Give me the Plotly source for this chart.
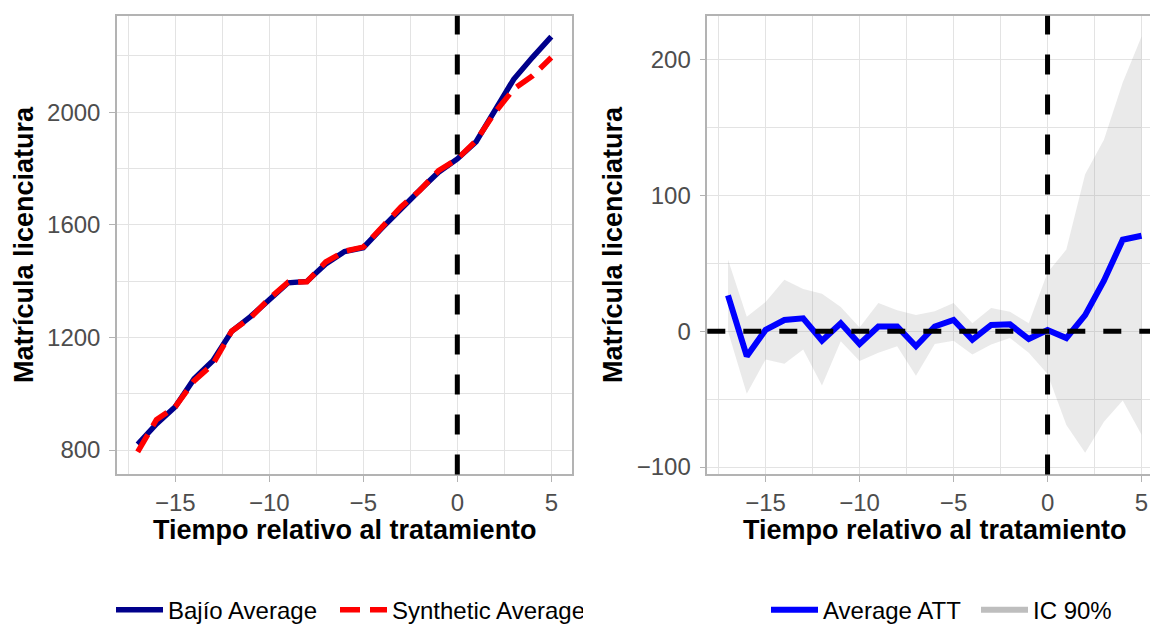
import plotly.graph_objects as go

# ---------------- data ----------------
t = list(range(-17, 6))
bajio_avg = [820, 893, 954, 1053, 1117, 1222, 1274, 1332, 1394, 1399, 1461, 1505,
             1519, 1589, 1659, 1723, 1787, 1834, 1895, 2009, 2117, 2195, 2268]
synthetic_avg = [794, 908, 954, 1046, 1105, 1222, 1270, 1338, 1396, 1398, 1468, 1506,
                 1521, 1594, 1663, 1722, 1792, 1834, 1899, 1999, 2082, 2129, 2194]
att = [26.3, -18.4, 0.9, 8.2, 9.4, -7.0, 5.8, -9.4, 3.4, 3.4, -11.1, 3.4,
       8.2, -6.3, 4.6, 5.0, -5.8, 0.9, -5.1, 11.8, 37.1, 67.3, 70.2]
ci_upper = [52.8, 10.6, 21.4, 37.8, 31.1, 27.5, 17.8, 2.6, 20.7, 15.4, 11.8, 14.7,
            20.7, 5.8, 17.1, 14.2, 5.8, 43.1, 60.0, 115.5, 140.8, 183.0, 216.8]
ci_lower = [0.0, -46.1, -20.8, -23.9, -13.5, -40.0, -7.5, -22.0, -15.9, -11.1, -32.8, -9.4,
            -7.0, -17.1, -9.9, -5.1, -15.9, -31.6, -69.0, -89.5, -66.6, -51.0, -76.3]

x_title = "Tiempo relativo al tratamiento"
y_title = "Matrícula licenciatura"

W, H = 1150, 633
FONT = "Liberation Sans, Arial, sans-serif"
GRID = "#e3e3e3"
BORDER = "#b3b3b3"

fig = go.Figure()

# ---- left panel ----
fig.add_trace(go.Scatter(x=t, y=bajio_avg, mode="lines", name="Bajío Average",
                         line=dict(color="#00008B", width=5.5), xaxis="x", yaxis="y",
                         legend="legend", legendwidth=162))
fig.add_trace(go.Scatter(x=t, y=synthetic_avg, mode="lines", name="Synthetic Average",
                         line=dict(color="#FF0000", width=5.5, dash="20px,10px"),
                         xaxis="x", yaxis="y", legend="legend", legendwidth=186))

# ---- right panel ----
fig.add_trace(go.Scatter(x=t + t[::-1], y=ci_upper + ci_lower[::-1], mode="lines",
                         fill="toself", fillcolor="rgba(150,150,150,0.2)",
                         line=dict(width=0, color="rgba(0,0,0,0)"), hoverinfo="skip",
                         showlegend=False, xaxis="x2", yaxis="y2"))
fig.add_trace(go.Scatter(x=t, y=att, mode="lines", name="Average ATT",
                         line=dict(color="#0000FF", width=6), xaxis="x2", yaxis="y2",
                         legend="legend2", legendwidth=148))
fig.add_trace(go.Scatter(x=[None], y=[None], mode="lines", name="IC 90%",
                         line=dict(color="#bebebe", width=6), xaxis="x2", yaxis="y2",
                         legend="legend2"))

def px_x(p):
    return p / W

def px_y(p):
    return 1 - p / H

ydom = [px_y(482), px_y(16)]

tickfont = dict(family=FONT, size=24, color="#4d4d4d")
common_x = dict(showgrid=True, gridcolor=GRID, gridwidth=1.4, zeroline=False,
                showline=True, linecolor=BORDER, linewidth=1.5,
                ticks="outside", ticklen=6, tickcolor=BORDER, tickwidth=1.2,
                tickfont=tickfont, tick0=0, dtick=5,
                minor=dict(dtick=2.5, tick0=0, showgrid=True, gridcolor=GRID, gridwidth=1.2,
                           ticks=""),
                automargin=False, fixedrange=True)
common_y = dict(showgrid=True, gridcolor=GRID, gridwidth=1.4, zeroline=False,
                showline=True, linecolor=BORDER, linewidth=1.5,
                ticks="outside", ticklen=6, tickcolor=BORDER, tickwidth=1.2,
                tickfont=tickfont, tick0=0, ticklabelstandoff=4,
                automargin=False, fixedrange=True)

legend_common = dict(orientation="h", yanchor="middle", y=px_y(620), xanchor="left",
                     font=dict(family=FONT, size=24, color="black"), itemwidth=47,
                     bgcolor="rgba(0,0,0,0)", traceorder="normal",
                     entrywidthmode="pixels")

fig.update_layout(
    width=W, height=H,
    margin=dict(l=0, r=0, t=0, b=0),
    paper_bgcolor="white", plot_bgcolor="white",
    font=dict(family=FONT, color="black"),
    xaxis=dict(domain=[px_x(117), px_x(572)], range=[-18.1, 6.1], anchor="y",
               mirror=True, **common_x),
    yaxis=dict(domain=ydom, range=[713.7, 2342.5], anchor="x", mirror=True, dtick=400,
               minor=dict(dtick=200, tick0=0, showgrid=True, gridcolor=GRID, gridwidth=1.2,
                          ticks=""),
               **common_y),
    xaxis2=dict(domain=[px_x(707.3), 1.0], range=[-18.1, 5.45], anchor="y2",
                mirror=True, **common_x),
    yaxis2=dict(domain=ydom, range=[-105.4, 232.1], anchor="x2", mirror=False, dtick=100,
                minor=dict(dtick=50, tick0=0, showgrid=True, gridcolor=GRID, gridwidth=1.2,
                           ticks=""),
                **common_y),
    legend=dict(x=px_x(111), **legend_common),
    legend2=dict(x=px_x(766), **legend_common),
    showlegend=True,
)

# dashed reference lines
dash_v = "20px,20px"
fig.add_shape(type="line", xref="x", yref="y domain", x0=0, x1=0, y0=0, y1=1,
              line=dict(color="black", width=5, dash=dash_v))
fig.add_shape(type="line", xref="x2", yref="y2 domain", x0=0, x1=0, y0=0, y1=1,
              line=dict(color="black", width=5, dash=dash_v))
fig.add_shape(type="line", xref="x2 domain", yref="y2", x0=0, x1=1, y0=0, y1=0,
              line=dict(color="black", width=5, dash="18px,18px"))

# axis titles as annotations
title_font = dict(family=FONT, size=27, color="black", weight="bold")
fig.add_annotation(text=x_title, xref="paper", yref="paper", x=px_x(344.5), y=px_y(538),
                   xanchor="center", yanchor="middle", showarrow=False, font=title_font)
fig.add_annotation(text=x_title, xref="paper", yref="paper", x=px_x(935), y=px_y(538),
                   xanchor="center", yanchor="middle", showarrow=False, font=title_font)
fig.add_annotation(text=y_title, xref="paper", yref="paper", x=px_x(24), y=px_y(249),
                   xanchor="center", yanchor="middle", showarrow=False, textangle=-90,
                   font=title_font)
fig.add_annotation(text=y_title, xref="paper", yref="paper", x=px_x(613), y=px_y(249),
                   xanchor="center", yanchor="middle", showarrow=False, textangle=-90,
                   font=title_font)

post = """
document.documentElement.style.margin='0';
document.body.style.margin='0';
document.body.style.overflow='hidden';
"""

fig.write_html("out.html", config={"displayModeBar": False}, post_script=post)
